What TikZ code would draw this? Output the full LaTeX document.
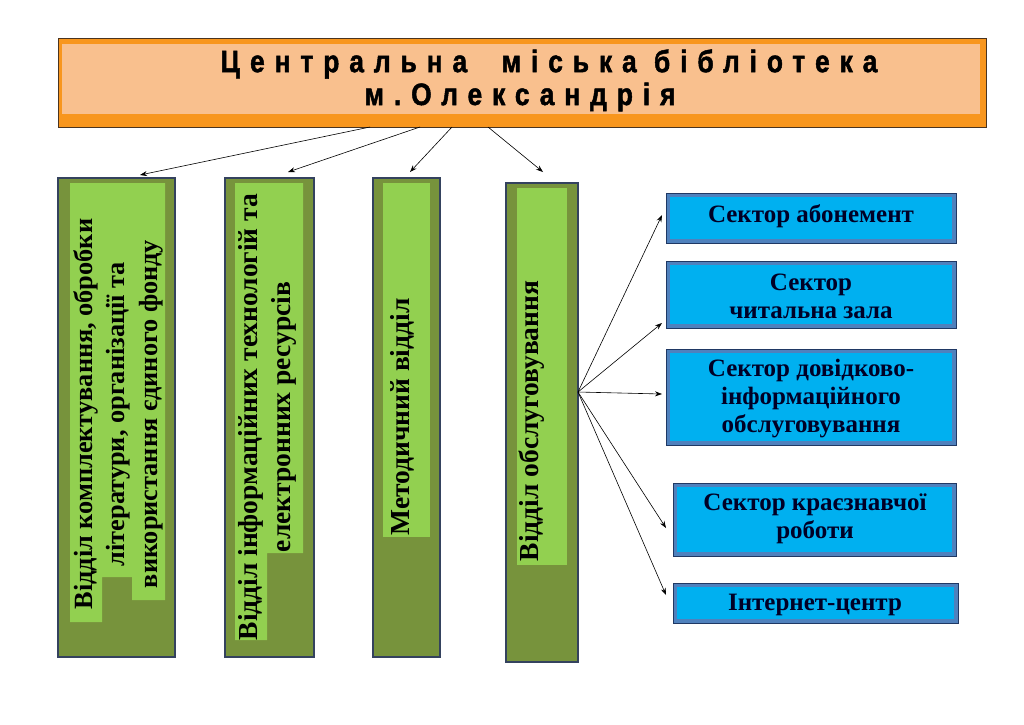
\documentclass[tikz,border=0pt]{standalone}
\usepackage{fontspec}
\setmainfont{Liberation Serif}
\newfontfamily\titlefont[LetterSpace=32, FakeBold=1.5, FakeStretch=0.85]{Liberation Sans Bold}
\usetikzlibrary{arrows.meta}
\definecolor{olive}{HTML}{77933C}
\definecolor{lgreen}{HTML}{92D050}
\definecolor{colborder}{HTML}{34425E}
\definecolor{hdrorange}{HTML}{F8961E}
\definecolor{hdrpeach}{HTML}{F9C08E}
\definecolor{hdrborder}{HTML}{4A3420}
\definecolor{secfill}{HTML}{00B0F0}
\definecolor{secband}{HTML}{4F81BD}
\definecolor{secedge}{HTML}{1F3864}
\tikzset{
  colbox/.style={draw=colborder, line width=1.6pt, fill=olive},
  coltext/.style={rotate=90, font=\bfseries\fontsize{27.5}{33}\selectfont, align=center, inner sep=0pt},
  secbox/.style={draw=secedge, line width=1pt, fill=secband},
  secin/.style={fill=secfill},
  sectext/.style={font=\bfseries\fontsize{25}{28}\selectfont, align=center, inner sep=0pt, text=black!85!blue},
  arr/.style={-{Stealth[length=7pt,width=5pt]}, line width=0.6pt},
  titletext/.style={inner sep=0pt, font=\titlefont\fontsize{31}{30}\selectfont}
}
\begin{document}
\begin{tikzpicture}[x=1pt,y=-1pt]
\useasboundingbox (0,0) rectangle (1024,724);
\fill[white] (0,0) rectangle (1024,724);
% header
\draw[hdrborder, line width=1pt, fill=hdrorange] (58,38) rectangle (986,127);
\fill[hdrpeach] (62,44) rectangle (980,114);
\node[titletext] (t1) at (549,64) {Центральна\ \ міська бібліотека};
\node[titletext] (t2) at (520,97) {м.Олександрія};
\coordinate (hdr1) at (370,127);
\coordinate (hdr2) at (420,127);
\coordinate (hdr3) at (452,127);
\coordinate (hdr4) at (488,127);
% column 1
\draw[colbox] (58,178) rectangle (175,657);
\fill[lgreen] (70,183) -- (165,183) -- (165,600) -- (132,600) -- (132,577) -- (102,577) -- (102,622) -- (70,622) -- cycle;
\node[coltext, font=\bfseries\fontsize{26.3}{32.5}\selectfont] (c1) at (118,414) {Відділ комплектування, обробки\\літератури, організації та\\використання єдиного фонду};
\coordinate (c1top) at (140,175);
% column 2
\draw[colbox] (225,178) rectangle (314,657);
\fill[lgreen] (235,183) -- (303,183) -- (303,553) -- (267,553) -- (267,640) -- (235,640) -- cycle;
\node[coltext] (c2) at (267,417) {Відділ інформаційних технологій та\\електронних ресурсів};
\coordinate (c2top) at (288,172);
% column 3
\draw[colbox] (373,178) rectangle (440,657);
\fill[lgreen] (383,183) rectangle (430,537);
\node[coltext] (c3) at (402,417) {Методичний відділ};
\coordinate (c3top) at (410,172);
% column 4
\draw[colbox] (506,183) rectangle (578,662);
\fill[lgreen] (517,188) rectangle (567,565);
\node[coltext] (c4) at (532,421) {Відділ обслуговування};
\coordinate (c4top) at (543,172);
\coordinate (fan) at (578,392);
% header arrows
\draw[arr] (hdr1) -- (c1top);
\draw[arr] (hdr2) -- (c2top);
\draw[arr] (hdr3) -- (c3top);
\draw[arr] (hdr4) -- (c4top);
% sectors
\draw[secbox] (666,193) rectangle (956,243);
\fill[secin] (670,197) rectangle (952,239);
\node[sectext] (s1) at (811,216) {Сектор абонемент};
\draw[secbox] (666,261) rectangle (956,328);
\fill[secin] (670,265) rectangle (952,324);
\node[sectext] (s2) at (811,296) {Сектор\\читальна зала};
\draw[secbox] (666,349) rectangle (956,445);
\fill[secin] (670,353) rectangle (952,441);
\node[sectext] (s3) at (811,399) {Сектор довідково-\\інформаційного\\обслуговування};
\draw[secbox] (673,483) rectangle (956,556);
\fill[secin] (677,487) rectangle (952,552);
\node[sectext] (s4) at (815,519) {Сектор краєзнавчої\\роботи};
\draw[secbox] (673,583) rectangle (958,623);
\fill[secin] (677,587) rectangle (954,619);
\node[sectext] (s5) at (815,605) {Інтернет-центр};
\coordinate (s1l) at (662,215);
\coordinate (s2l) at (662,323);
\coordinate (s3l) at (662,394);
\coordinate (s4l) at (666,528);
\coordinate (s5l) at (666,595);
\draw[arr] (fan) -- (s1l);
\draw[arr] (fan) -- (s2l);
\draw[arr] (fan) -- (s3l);
\draw[arr] (fan) -- (s4l);
\draw[arr] (fan) -- (s5l);
\end{tikzpicture}
\end{document}
